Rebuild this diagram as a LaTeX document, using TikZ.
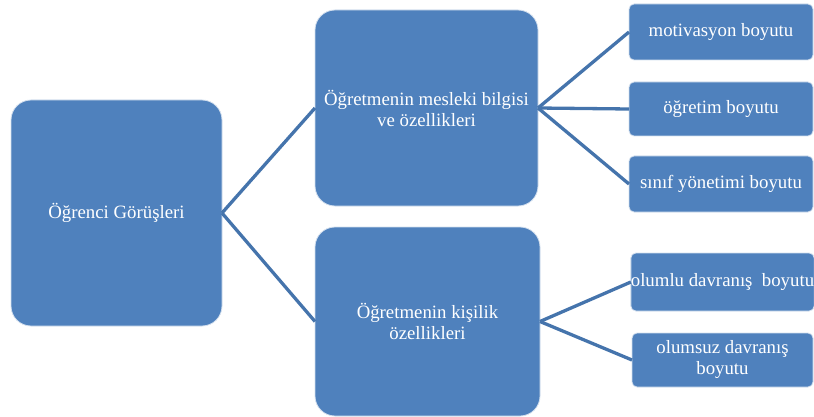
\documentclass[tikz,border=0pt]{standalone}
\usepackage{fontspec}
\setmainfont{Liberation Serif}
\definecolor{boxblue}{HTML}{4F81BD}
\definecolor{lineblue}{HTML}{4574AC}
\tikzset{
  bigbox/.style={rectangle, rounded corners=20pt, fill=boxblue, draw=white!75!boxblue, line width=0.8pt,
    text=white, align=center, inner sep=0pt, outer sep=0pt,
    font=\fontsize{18.8}{21}\selectfont},
  smallbox/.style={bigbox, rounded corners=5pt},
  conn/.style={draw=lineblue, line width=3.3pt}
}
\begin{document}
\begin{tikzpicture}[x=1pt,y=-1pt]
\useasboundingbox (0,0) rectangle (814,417);
\node[bigbox, minimum width=211pt, minimum height=226pt] (L) at (116.5,213) {Öğrenci Görüşleri};
\node[bigbox, minimum width=223pt, minimum height=196pt] (M1) at (426.5,108) {Öğretmenin mesleki bilgisi\\ve özellikleri};
\node[bigbox, minimum width=225pt, minimum height=189pt] (M2) at (427.5,321.5) {Öğretmenin kişilik\\özellikleri};
\node[smallbox, minimum width=184pt, minimum height=56pt] (R1) at (721,32) {motivasyon boyutu};
\node[smallbox, minimum width=184pt, minimum height=54pt] (R2) at (721,109) {öğretim boyutu};
\node[smallbox, minimum width=184pt, minimum height=56pt] (R3) at (721,184) {sınıf yönetimi boyutu};
\node[smallbox, minimum width=181pt, minimum height=58pt] (R4) at (722.5,282) {olumlu davranış\ \ boyutu};
\node[smallbox, minimum width=181pt, minimum height=54pt] (R5) at (722.5,360) {olumsuz davranış\\boyutu};
\draw[conn] (L.east) -- (M1.west);
\draw[conn] (L.east) -- (M2.west);
\draw[conn] (M1.east) -- (R1.west);
\draw[conn] (M1.east) -- (R2.west);
\draw[conn] (M1.east) -- (R3.west);
\draw[conn] (M2.east) -- (R4.west);
\draw[conn] (M2.east) -- (R5.west);
\end{tikzpicture}
\end{document}
